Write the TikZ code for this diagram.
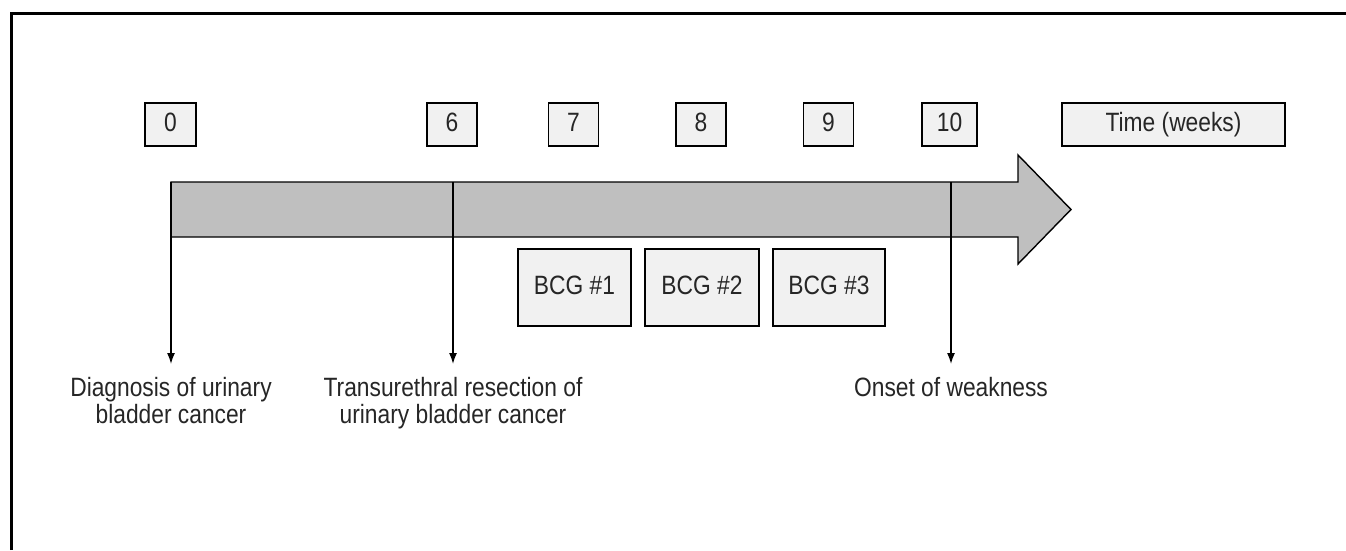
\documentclass[tikz,border=0pt]{standalone}
\usepackage{fontspec}
\setmainfont{Liberation Sans}[FakeStretch=0.86]
\usetikzlibrary{arrows.meta}
\definecolor{boxfill}{HTML}{F1F1F1}
\definecolor{barfill}{HTML}{BFBFBF}
\definecolor{ink}{HTML}{262626}
\tikzset{
  week/.style={draw=black, line width=1.6pt, fill=boxfill, text=ink,
    minimum height=43pt, inner sep=0pt, text height=13pt, text depth=0pt,
    font=\fontsize{26.5}{27}\selectfont},
  dose/.style={draw=black, line width=1.6pt, fill=boxfill, text=ink,
    minimum height=77pt, inner sep=0pt, text height=13pt, text depth=0pt,
    font=\fontsize{26.5}{27}\selectfont},
  event/.style={text=ink, align=center, inner sep=0pt, anchor=base,
    font=\fontsize{26.5}{27}\selectfont},
  marker/.style={draw=black, line width=1.5pt, -{Latex[length=11pt,width=8pt]}},
}
\begin{document}
\begin{tikzpicture}[x=1pt, y=-1pt]
  \useasboundingbox (0,0) rectangle (1346,550);
  % frame edges
  \draw[line width=3pt] (11,550) -- (11,13) -- (1346,13);

  % week labels
  \node[week, minimum width=51pt]  (w0)  at (170.5,124.5) {0};
  \node[week, minimum width=50pt]  (w6)  at (452,124.5)   {6};
  \node[week, minimum width=50pt]  (w7)  at (573.5,124.5) {7};
  \node[week, minimum width=50pt]  (w8)  at (701,124.5)   {8};
  \node[week, minimum width=50pt]  (w9)  at (828.5,124.5) {9};
  \node[week, minimum width=55pt]  (w10) at (949.5,124.5) {10};
  \node[week, minimum width=223pt] (wt)  at (1173.5,124.5) {Time (weeks)};

  % time arrow
  \draw[line width=1.4pt, fill=barfill, line join=miter]
    (171,182) -- (1018,182) -- (1018,155) -- (1071,209.5)
    -- (1018,264) -- (1018,237) -- (171,237) -- cycle;

  % BCG instillations
  \node[dose, minimum width=113pt] (b1) at (574.5,287.5) {BCG \#1};
  \node[dose, minimum width=114pt] (b2) at (702,287.5)   {BCG \#2};
  \node[dose, minimum width=112pt] (b3) at (829,287.5)   {BCG \#3};

  % event markers
  \coordinate (s0) at (171,182);
  \coordinate (e0) at (171,364);
  \coordinate (s6) at (453,182);
  \coordinate (e6) at (453,364);
  \coordinate (s10) at (951,182);
  \coordinate (e10) at (951,364);
  \draw[marker] (s0) -- (e0);
  \draw[marker] (s6) -- (e6);
  \draw[marker] (s10) -- (e10);

  % event descriptions (base anchor sits on the last line)
  \node[event] (d0) at (171,423) {Diagnosis of urinary\\bladder cancer};
  \node[event] (d6) at (453,423) {Transurethral resection of\\urinary bladder cancer};
  \node[event] (d10) at (951,396) {Onset of weakness};
\end{tikzpicture}
\end{document}
